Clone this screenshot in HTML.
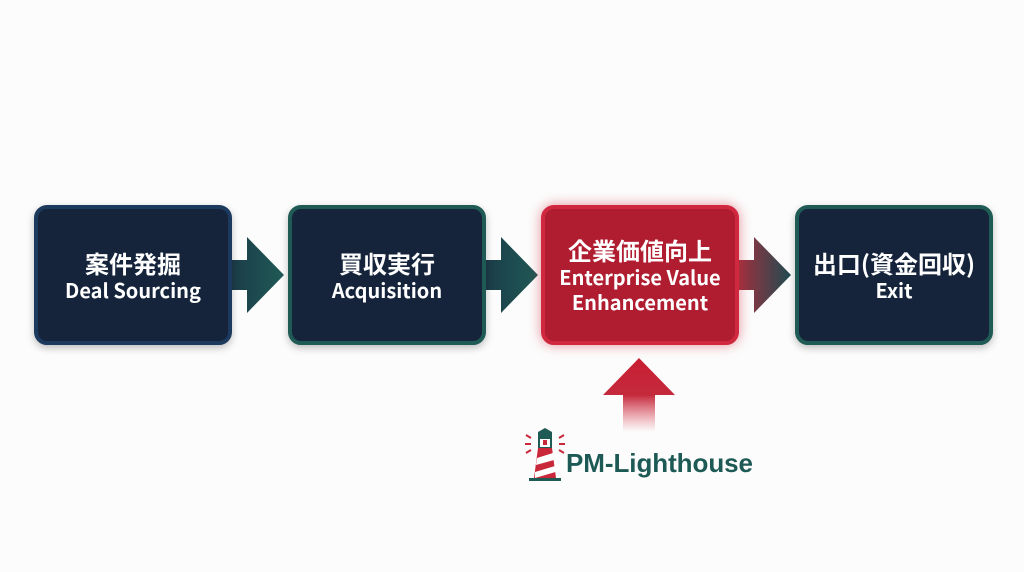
<!DOCTYPE html>
<html><head><meta charset="utf-8"><style>
body{margin:0;width:1024px;height:572px;background:#fcfcfc;position:relative;overflow:hidden;font-family:"Liberation Sans","Noto Sans CJK JP",sans-serif}
.b{position:absolute;top:205px;width:190px;height:132px;border:4px solid #1f5a55;border-radius:13px;background:#15243b;color:#fff;display:flex;flex-direction:column;justify-content:center;align-items:center;text-align:center;box-shadow:0 3px 8px rgba(0,0,0,.25)}
.j{font-family:"Noto Sans CJK JP",sans-serif;font-weight:700;font-size:24px;line-height:28px}
.e{font-family:"Noto Sans CJK JP","Liberation Sans",sans-serif;font-weight:700;font-size:20px;line-height:25px}
</style></head><body>
<svg width="1024" height="572" style="position:absolute;left:0;top:0">
<defs>
<linearGradient id="g" x1="0" x2="1"><stop offset="0" stop-color="#1b3a48"/><stop offset="1" stop-color="#1f5a55"/></linearGradient>
<linearGradient id="r" x1="0" x2="1"><stop offset="0" stop-color="#a8303e"/><stop offset="1" stop-color="#1f4a50"/></linearGradient>
<linearGradient id="u" x1="0" y1="1" x2="0" y2="0"><stop offset="0" stop-color="#e05565" stop-opacity="0"/><stop offset="0.5" stop-color="#c42a3c"/><stop offset="1" stop-color="#c81e32"/></linearGradient>
</defs>
<path d="M228 260H247V237L284 275L247 313V290H228Z" fill="url(#g)"/>
<path d="M482 260H501V237L538 275L501 313V290H482Z" fill="url(#g)"/>
<path d="M735 260H754V237L791 275L754 313V290H735Z" fill="url(#r)"/>
<path d="M623 432V395H603L639 358L675 395H655V432Z" fill="url(#u)"/>
<g transform="translate(527,428)">
<path d="M4 10L-1 7M4 16L-2 16M4 22L-1 25M32 10L37 7M32 16L38 16M32 22L37 25" stroke="#c8283a" stroke-width="2"/>
<path d="M11 4L18 0L25 4V10H11Z" fill="#1f5a55"/>
<rect x="12" y="10" width="12" height="10" fill="#fff" stroke="#1f5a55" stroke-width="2"/>
<rect x="16" y="12" width="4" height="5" fill="#c8283a"/>
<path d="M11 20H25L29 50H7Z" fill="#c8283a"/>
<path d="M10 30L26 25L27 32L9 37ZM8 44L28 38L28.5 44L8 50Z" fill="#fff"/>
<rect x="2" y="50" width="32" height="3" fill="#1f5a55"/>
</g>
<text x="566" y="472" font-family="Liberation Sans,sans-serif" font-weight="700" font-size="26" fill="#1e5a55" textLength="187">PM-Lighthouse</text>
</svg>
<div class="b" style="left:34px;border-color:#1c3a5e"><div class="j">案件発掘</div><div class="e">Deal Sourcing</div></div>
<div class="b" style="left:288px"><div class="j">買収実行</div><div class="e">Acquisition</div></div>
<div class="b" style="left:541px;background:#b01c30;border-color:#d0283e;box-shadow:0 0 12px rgba(210,40,60,.5)"><div class="j">企業価値向上</div><div class="e">Enterprise Value<br>Enhancement</div></div>
<div class="b" style="left:795px"><div class="j">出口(資金回収)</div><div class="e">Exit</div></div>
</body></html>
